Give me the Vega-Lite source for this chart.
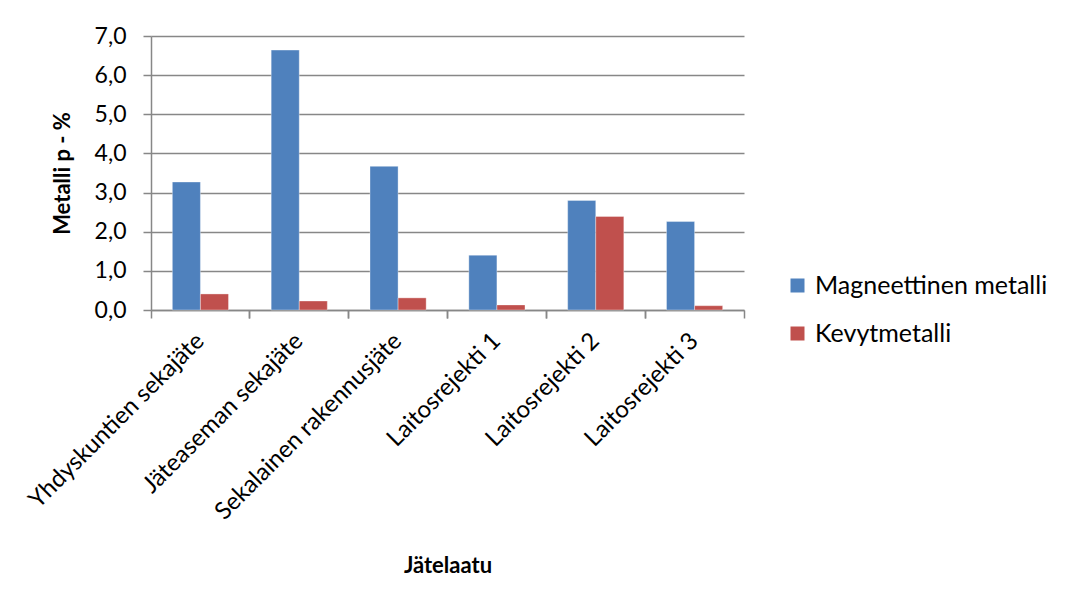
{
  "$schema": "https://vega.github.io/schema/vega-lite/v6.json",
  "autosize": "none",
  "width": 593,
  "height": 274,
  "padding": {"left": 151, "top": 36, "right": 327, "bottom": 298},
  "background": "white",
  "data": {
    "values": [
      {"jatelaatu": "Yhdyskuntien sekajäte", "sarja": "Magneettinen metalli", "osuus": 3.27},
      {"jatelaatu": "Yhdyskuntien sekajäte", "sarja": "Kevytmetalli", "osuus": 0.41},
      {"jatelaatu": "Jäteaseman sekajäte", "sarja": "Magneettinen metalli", "osuus": 6.64},
      {"jatelaatu": "Jäteaseman sekajäte", "sarja": "Kevytmetalli", "osuus": 0.23},
      {"jatelaatu": "Sekalainen rakennusjäte", "sarja": "Magneettinen metalli", "osuus": 3.67},
      {"jatelaatu": "Sekalainen rakennusjäte", "sarja": "Kevytmetalli", "osuus": 0.31},
      {"jatelaatu": "Laitosrejekti 1", "sarja": "Magneettinen metalli", "osuus": 1.40},
      {"jatelaatu": "Laitosrejekti 1", "sarja": "Kevytmetalli", "osuus": 0.13},
      {"jatelaatu": "Laitosrejekti 2", "sarja": "Magneettinen metalli", "osuus": 2.80},
      {"jatelaatu": "Laitosrejekti 2", "sarja": "Kevytmetalli", "osuus": 2.39},
      {"jatelaatu": "Laitosrejekti 3", "sarja": "Magneettinen metalli", "osuus": 2.26},
      {"jatelaatu": "Laitosrejekti 3", "sarja": "Kevytmetalli", "osuus": 0.11}
    ]
  },
  "config": {
    "font": "Lato",
    "view": {"stroke": null},
    "axis": {
      "labelFont": "Lato",
      "titleFont": "Lato",
      "labelColor": "black",
      "titleColor": "black",
      "domainColor": "#878787",
      "tickColor": "#878787",
      "gridColor": "#878787",
      "domainWidth": 1.5,
      "tickWidth": 1.5,
      "gridWidth": 1.5
    }
  },
  "layer": [
    {
      "mark": {"type": "bar", "stroke": "#ffffff", "strokeOpacity": 0.35, "strokeWidth": 1},
      "encoding": {
        "x": {
          "field": "jatelaatu",
          "type": "nominal",
          "sort": null,
          "scale": {"paddingInner": 0, "paddingOuter": 0},
          "axis": {
            "title": "Jätelaatu",
            "titleFontSize": 22,
            "titleFontWeight": "bold",
            "titleX": 296.5,
            "titleY": 262,
            "titleAlign": "center",
            "titleBaseline": "alphabetic",
            "labelFontSize": 24,
            "labelAngle": -45,
            "labelAlign": "right",
            "labelBaseline": "middle",
            "labelPadding": 27,
            "labelOverlap": false,
            "labelLimit": 400,
            "ticks": false,
            "domain": true,
            "grid": false
          }
        },
        "xOffset": {
          "field": "sarja",
          "type": "nominal",
          "sort": ["Magneettinen metalli", "Kevytmetalli"],
          "scale": {"paddingInner": 0, "paddingOuter": 0.76}
        },
        "y": {
          "field": "osuus",
          "type": "quantitative",
          "scale": {"domain": [0, 7], "nice": false},
          "axis": {
            "title": "Metalli p - %",
            "titleFontSize": 22,
            "titleFontWeight": "bold",
            "titleAngle": -90,
            "titleX": -89,
            "titleY": 137,
            "titleAlign": "center",
            "titleBaseline": "middle",
            "values": [0, 1, 2, 3, 4, 5, 6, 7],
            "labelExpr": "replace(format(datum.value, '.1f'), '.', ',')",
            "labelFontSize": 23,
            "labelPadding": 17,
            "tickSize": 8,
            "grid": true
          }
        },
        "color": {
          "field": "sarja",
          "type": "nominal",
          "sort": ["Magneettinen metalli", "Kevytmetalli"],
          "scale": {
            "domain": ["Magneettinen metalli", "Kevytmetalli"],
            "range": ["#4F81BD", "#C0504D"]
          },
          "legend": {
            "title": null,
            "orient": "none",
            "legendX": 634,
            "legendY": 237,
            "padding": 0,
            "symbolType": "square",
            "symbolSize": 196,
            "symbolStrokeWidth": 0,
            "labelFont": "Lato",
            "labelFontSize": 25,
            "labelColor": "black",
            "labelOffset": 5,
            "labelLimit": 400,
            "rowPadding": 22
          }
        }
      }
    },
    {
      "mark": {"type": "tick", "opacity": 0},
      "encoding": {
        "x": {
          "field": "jatelaatu",
          "type": "nominal",
          "sort": null,
          "axis": {
            "orient": "bottom",
            "title": null,
            "labels": false,
            "domain": false,
            "grid": false,
            "ticks": true,
            "tickSize": 8,
            "bandPosition": 0
          }
        }
      }
    },
    {
      "mark": {"type": "tick", "opacity": 0},
      "encoding": {
        "x": {
          "field": "jatelaatu",
          "type": "nominal",
          "sort": null,
          "axis": {
            "orient": "bottom",
            "title": null,
            "labels": false,
            "domain": false,
            "grid": false,
            "ticks": true,
            "tickSize": 8,
            "bandPosition": 1
          }
        }
      }
    }
  ],
  "resolve": {"axis": {"x": "independent"}}
}
